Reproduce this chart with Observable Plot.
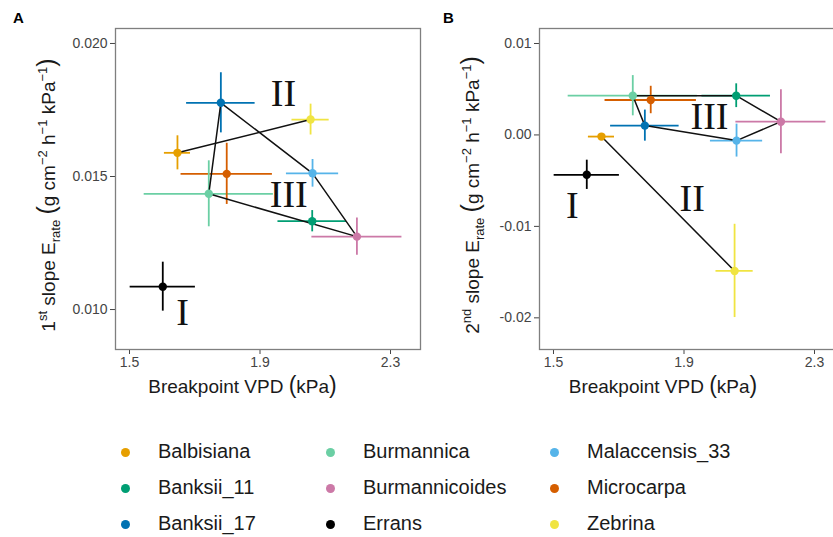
<!DOCTYPE html>
<html>
<head>
<meta charset="utf-8">
<script src="https://cdn.jsdelivr.net/npm/d3@7"></script>
<script src="https://cdn.jsdelivr.net/npm/@observablehq/plot@0.6"></script>
<style>
  html, body { margin: 0; padding: 0; background: #fff; overflow: hidden; }
  #wrap { position: relative; width: 833px; height: 537px; overflow: hidden; font-family: "Liberation Sans", Arial, sans-serif; }
  .panel { position: absolute; top: 0; }
  .plab { position: absolute; font-weight: bold; font-size: 15px; color: #000; }
  .leg { position: absolute; font-size: 20px; color: #1a1a1a; white-space: nowrap; }
  .leg .dot { position: absolute; width: 9px; height: 9px; border-radius: 50%; }
</style>
</head>
<body>
<div id="wrap"></div>
<script>
// ---- data ----
const species = ["Balbisiana","Banksii_11","Banksii_17","Burmannica","Burmannicoides","Errans","Malaccensis_33","Microcarpa","Zebrina"];
const colors  = ["#E69F00","#009E73","#0072B2","#6BCFA4","#CC79A7","#000000","#56B4E9","#D55E00","#F0E442"];
const groups  = ["II","III","III","III","III","I","III","III","II"];
const vpd      = [1.647, 2.060, 1.780, 1.743, 2.197, 1.602, 2.061, 1.798, 2.055];
const vpdErr   = [0.040, 0.105, 0.105, 0.198, 0.138, 0.100, 0.080, 0.140, 0.057];
const slope1    = [0.01589, 0.01332, 0.01777, 0.01435, 0.01274, 0.01086, 0.01512, 0.01510, 0.01714];
const slope1Err = [0.00064, 0.00040, 0.00113, 0.00124, 0.00070, 0.00092, 0.00052, 0.00115, 0.00058];
const slope2    = [-0.00018, 0.00429, 0.00102, 0.00429, 0.00145, -0.00436, -0.00062, 0.00382, -0.01487];
const slope2Err = [0.00030, 0.00130, 0.00170, 0.00220, 0.00350, 0.00160, 0.00180, 0.00150, 0.00510];
const xTicks  = [1.5, 1.9, 2.3];
const yTicksA = [0.010, 0.015, 0.020];
const yTicksB = [-0.02, -0.01, 0.00, 0.01];
const groupLabelsA = [{t:"I", x:1.663, y:0.00989}, {t:"II", x:1.972, y:0.01812}, {t:"III", x:1.988, y:0.01430}];
const groupLabelsB = [{t:"I", x:1.558, y:-0.00777}, {t:"II", x:1.925, y:-0.00695}, {t:"III", x:1.978, y:0.00200}];

const rows = species.map((s, i) => ({
  species: s, group: groups[i], vpd: vpd[i], vpdErr: vpdErr[i],
  s1: slope1[i], s1Err: slope1Err[i], s2: slope2[i], s2Err: slope2Err[i]
}));

function hullData(key) {
  const out = [];
  for (const g of new Set(groups)) {
    const pts = rows.filter(d => d.group === g).map(d => [d.vpd, d[key]]);
    let poly = null;
    if (pts.length >= 3) { poly = d3.polygonHull(pts); poly = poly.concat([poly[0]]); }
    else if (pts.length === 2) poly = pts;
    if (poly) poly.forEach(p => out.push({g, x: p[0], y: p[1]}));
  }
  return out;
}

const xDomain = [1.4571, 2.3919];

function panel(key, errKey, yDomain, yTicks, yFmt, labels) {
  return Plot.plot({
    width: 425, height: 405,
    marginLeft: 115, marginRight: 5, marginTop: 28, marginBottom: 56,
    style: {fontFamily: "Liberation Sans, Arial, sans-serif", fontSize: "14px", color: "#444", background: "transparent", overflow: "visible"},
    x: {domain: xDomain, ticks: xTicks, tickFormat: d3.format(".1f"), tickSize: 5, tickPadding: 3, label: null},
    y: {domain: yDomain, ticks: yTicks, tickFormat: yFmt, tickSize: 5, tickPadding: 3, label: null},
    color: {domain: species, range: colors},
    marks: [
      Plot.frame({stroke: "#7f7f7f", strokeWidth: 1.3}),
      Plot.ruleY(rows, {y: key, x1: d => d.vpd - d.vpdErr, x2: d => d.vpd + d.vpdErr, stroke: "species", strokeWidth: 1.8}),
      Plot.ruleX(rows, {x: "vpd", y1: d => d[key] - d[errKey], y2: d => d[key] + d[errKey], stroke: "species", strokeWidth: 1.8}),
      Plot.line(hullData(key), {x: "x", y: "y", z: "g", stroke: "#111", strokeWidth: 1.5}),
      Plot.dot(rows, {x: "vpd", y: key, fill: "species", r: 4.2}),
      Plot.text(labels, {x: "x", y: "y", text: "t", fontFamily: "Liberation Serif, Times New Roman, serif", fontSize: 38, fill: "#111", textAnchor: "middle", lineAnchor: "middle"})
    ]
  });
}

const fmtA = d3.format(".3f");
const fmtB = d => d3.format(".2f")(d).replace("\u2212", "-");

const pA = panel("s1", "s1Err", [0.008498, 0.020563], yTicksA, fmtA, groupLabelsA);
const pB = panel("s2", "s2Err", [-0.023463, 0.011639], yTicksB, fmtB, groupLabelsB);

const wrap = document.getElementById("wrap");
pA.classList.add("panel"); pA.style.left = "0px";
pB.classList.add("panel"); pB.style.left = "424px";
wrap.appendChild(pA); wrap.appendChild(pB);

function addTitles(svg, num, ord, xTitleCx) {
  const s = d3.select(svg);
  const f = "Liberation Sans, Arial, sans-serif";
  // x title
  const xt = s.append("text").attr("x", xTitleCx).attr("y", 393).attr("text-anchor", "middle")
    .attr("font-family", f).attr("font-size", 19).attr("fill", "#1a1a1a");
  xt.append("tspan").text("Breakpoint VPD ");
  xt.append("tspan").attr("font-size", 23).text("(");
  xt.append("tspan").text("kPa");
  xt.append("tspan").attr("font-size", 23).text(")");
  // y title
  const yt = s.append("text").attr("transform", "translate(55,195) rotate(-90)").attr("text-anchor", "middle")
    .attr("font-family", f).attr("font-size", 19).attr("fill", "#1a1a1a");
  const parts = [
    [num, 0, 19], [ord, -8, 13], [" slope E", 8, 19], ["rate", 5, 13],
    [" ", -5, 19], ["(", 0, 25], ["g cm", 0, 19], ["\u22122", -8, 13], [" h", 8, 19],
    ["\u22121", -8, 13], [" kPa", 8, 19], ["\u22121", -8, 13], [")", 8, 25]
  ];
  parts.forEach(([t, dy, fs]) => yt.append("tspan").attr("dy", dy).attr("font-size", fs).text(t));
}
addTitles(pA, "1", "st", 242.5);
addTitles(pB, "2", "nd", 239);

// panel letters
[["A", 13], ["B", 443]].forEach(([t, x]) => {
  const d = document.createElement("div");
  d.className = "plab"; d.textContent = t;
  d.style.left = x + "px"; d.style.top = "9px";
  wrap.appendChild(d);
});

// legend (3 columns, column-major)
const colX = [125, 330, 554];
const rowY = [452, 488, 524];
species.forEach((s, i) => {
  const c = Math.floor(i / 3), r = i % 3;
  const item = document.createElement("div");
  item.className = "leg";
  item.style.left = colX[c] + "px";
  item.style.top = (rowY[r] - 12) + "px";
  const dot = document.createElement("span");
  dot.className = "dot"; dot.style.background = colors[i];
  dot.style.left = "-4.5px"; dot.style.top = "7.5px";
  const lab = document.createElement("span");
  lab.textContent = s; lab.style.position = "absolute"; lab.style.left = "33px"; lab.style.top = "0px";
  item.appendChild(dot); item.appendChild(lab);
  wrap.appendChild(item);
});
</script>
</body>
</html>
